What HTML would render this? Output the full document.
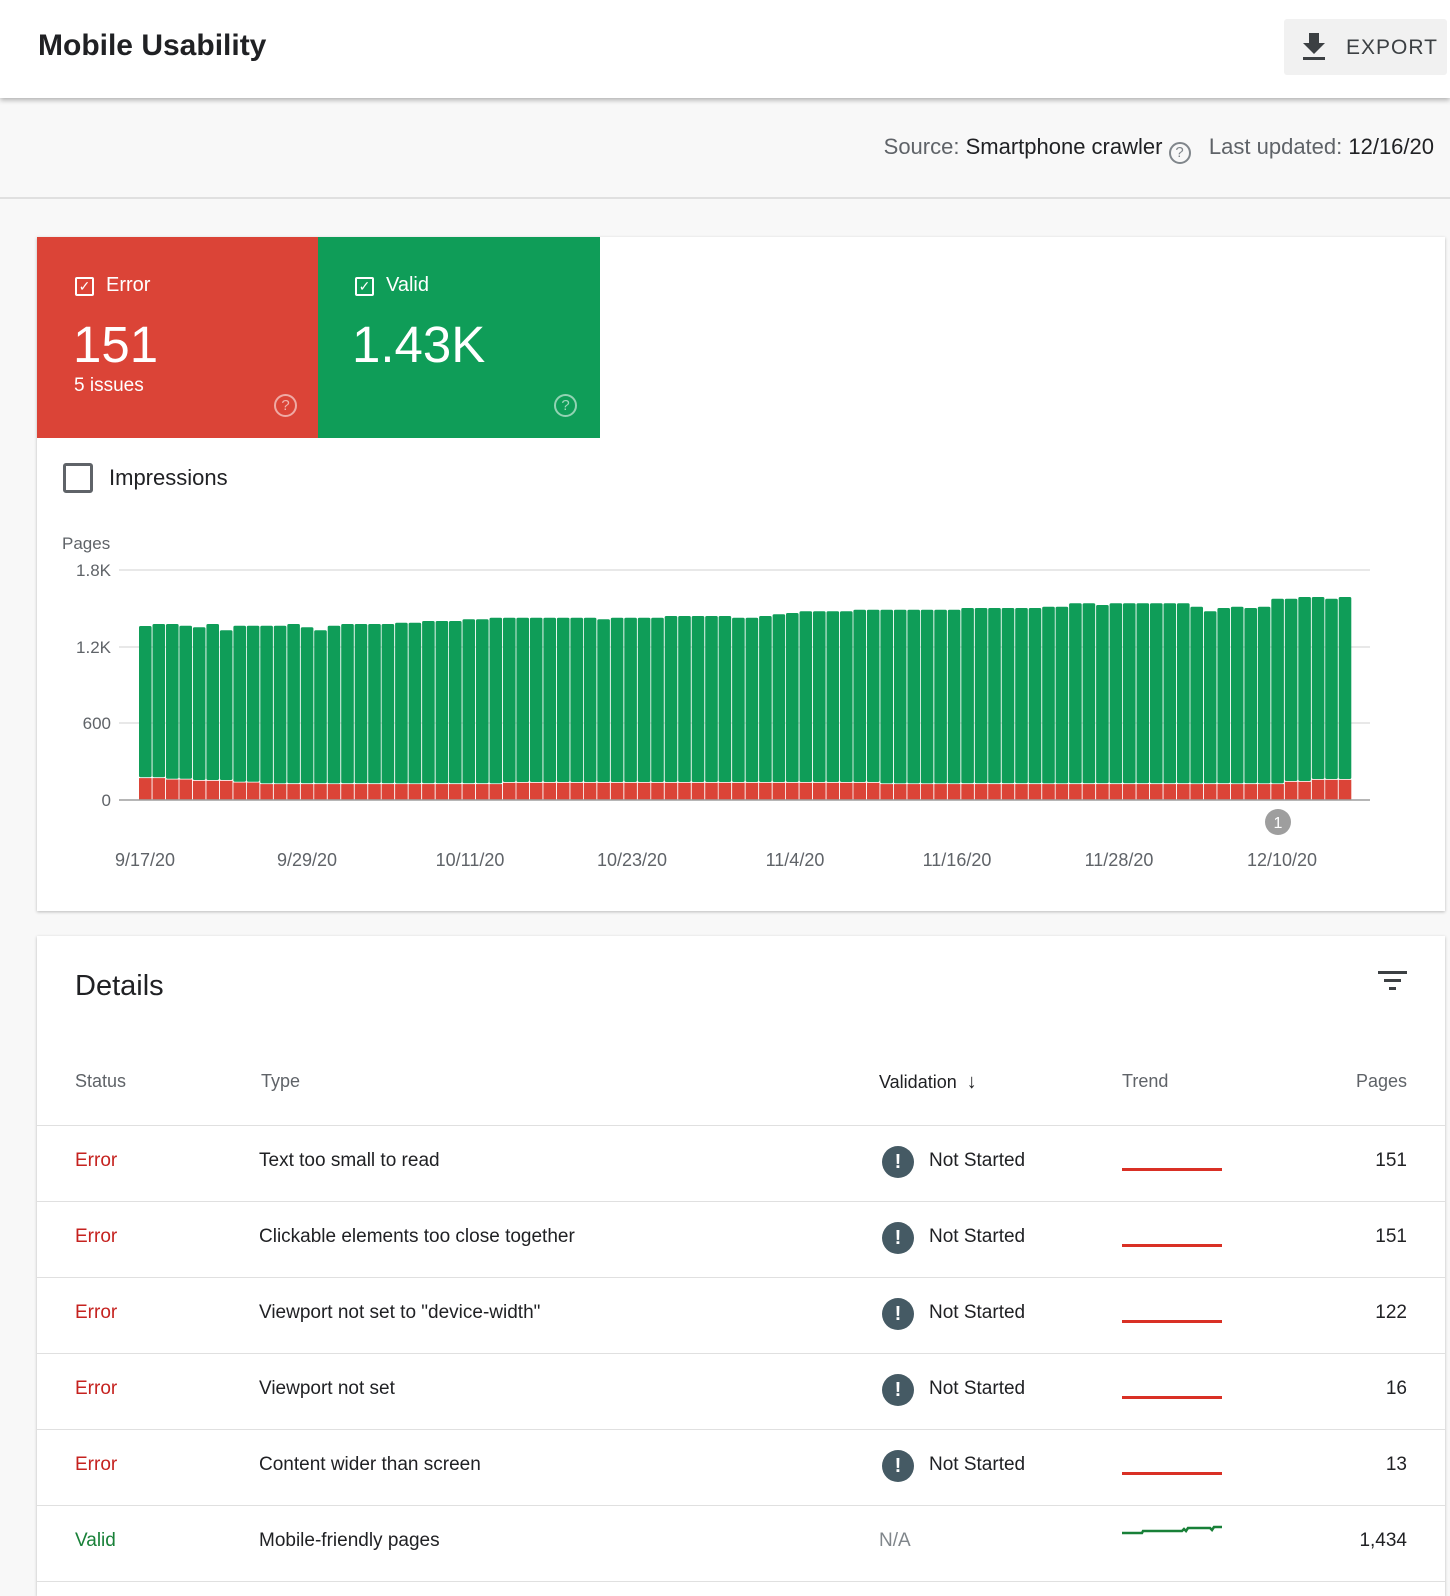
<!DOCTYPE html>
<html><head><meta charset="utf-8">
<style>
*{box-sizing:border-box;margin:0;padding:0}
body{width:1450px;height:1583px;overflow:hidden;background:#f8f8f8;font-family:"Liberation Sans",sans-serif;color:#202124;position:relative}
.abs{position:absolute}
#hdr{left:0;top:0;width:1450px;height:98px;background:#fff;box-shadow:0 2px 5px rgba(0,0,0,.3);z-index:2}
.card{background:#fff;box-shadow:0 1px 3px rgba(0,0,0,.25)}
.t{white-space:nowrap}
</style></head><body>
<div id="hdr" class="abs">
 <div class="abs t" style="left:38px;top:29px;font-size:30px;font-weight:bold;color:#202124">Mobile Usability</div>
 <div class="abs" style="left:1284px;top:19px;width:163px;height:56px;background:#f1f1f1;border-radius:3px"></div>
 <svg class="abs" style="left:1302px;top:33px" width="26" height="28"><path d="M7 0h10v10h6l-11 11-11-11h6z M1 24h22v3H1z" fill="#3c4043"/></svg>
 <div class="abs t" style="left:1346px;top:36px;font-size:21px;color:#3c4043;letter-spacing:1px">EXPORT</div>
</div>
<div class="abs t" style="right:16px;top:134px;font-size:22px;color:#5f6368">Source: <span style="color:#202124">Smartphone crawler</span> <span style="display:inline-block;width:22px;height:22px;border:2px solid #80868b;border-radius:50%;font-size:15px;text-align:center;line-height:18px;vertical-align:-3px;color:#80868b">?</span> &nbsp;&nbsp;Last updated: <span style="color:#202124">12/16/20</span></div>
<div class="abs" style="left:0;top:197px;width:1450px;height:2px;background:#e0e0e0"></div>

<div class="abs card" style="left:37px;top:237px;width:1408px;height:674px">
 <div class="abs" style="left:0;top:0;width:281px;height:201px;background:#db4437"></div>
 <div class="abs" style="left:281px;top:0;width:282px;height:201px;background:#0f9d58"></div>
 <div class="abs" style="left:38px;top:40px;width:19px;height:19px;border:2px solid #fff;border-radius:2px;color:#fff;font-size:14px;line-height:15px;text-align:center">✓</div>
 <div class="abs t" style="left:69px;top:37px;font-size:20px;color:#fff">Error</div>
 <div class="abs t" style="left:36px;top:78px;font-size:51px;color:#fff">151</div>
 <div class="abs t" style="left:37px;top:138px;font-size:19px;color:#fff">5 issues</div>
 <div class="abs" style="left:237px;top:157px;width:23px;height:23px;border:2px solid rgba(255,255,255,.55);border-radius:50%;color:rgba(255,255,255,.6);font-size:15px;text-align:center;line-height:19px">?</div>
 <div class="abs" style="left:318px;top:40px;width:19px;height:19px;border:2px solid #fff;border-radius:2px;color:#fff;font-size:14px;line-height:15px;text-align:center">✓</div>
 <div class="abs t" style="left:349px;top:37px;font-size:20px;color:#fff">Valid</div>
 <div class="abs t" style="left:315px;top:78px;font-size:51px;color:#fff">1.43K</div>
 <div class="abs" style="left:517px;top:157px;width:23px;height:23px;border:2px solid rgba(255,255,255,.55);border-radius:50%;color:rgba(255,255,255,.6);font-size:15px;text-align:center;line-height:19px">?</div>
 <div class="abs" style="left:26px;top:226px;width:30px;height:30px;border:3px solid #5f6368;border-radius:3px"></div>
 <div class="abs t" style="left:72px;top:228px;font-size:22px;color:#202124">Impressions</div>
</div>

<svg class="abs" style="left:0;top:0" width="1450" height="911">
 <g font-family="Liberation Sans, sans-serif" font-size="17" fill="#5f6368">
  <text x="62" y="549">Pages</text>
  <text x="111" y="576" text-anchor="end">1.8K</text>
  <text x="111" y="653" text-anchor="end">1.2K</text>
  <text x="111" y="729" text-anchor="end">600</text>
  <text x="111" y="806" text-anchor="end">0</text>
 </g>
 <g stroke="#e8e8e8" stroke-width="2">
  <line x1="119" y1="570" x2="1370" y2="570"/><line x1="119" y1="647" x2="1370" y2="647"/><line x1="119" y1="723" x2="1370" y2="723"/>
 </g>
 <g id="bars"></g>
 <line x1="119" y1="800" x2="1370" y2="800" stroke="#9e9e9e" stroke-width="1.5"/>
 <circle cx="1278" cy="822" r="13" fill="#9e9e9e"/>
 <text x="1278" y="828" text-anchor="middle" font-family="Liberation Sans, sans-serif" font-size="16" fill="#fff">1</text>
 <g font-family="Liberation Sans, sans-serif" font-size="18" fill="#5f6368" text-anchor="middle">
  <text x="145" y="866">9/17/20</text><text x="307" y="866">9/29/20</text><text x="470" y="866">10/11/20</text><text x="632" y="866">10/23/20</text>
  <text x="795" y="866">11/4/20</text><text x="957" y="866">11/16/20</text><text x="1119" y="866">11/28/20</text><text x="1282" y="866">12/10/20</text>
 </g>
</svg>

<div class="abs card" style="left:37px;top:936px;width:1408px;height:660px">
 <div class="abs t" style="left:38px;top:34px;font-size:29px;color:#202124">Details</div>
 <svg class="abs" style="left:1341px;top:33px" width="30" height="22"><rect x="0" y="2" width="29" height="3" fill="#3c4043"/><rect x="6" y="10" width="17" height="3" fill="#3c4043"/><rect x="11" y="18" width="7" height="3" fill="#3c4043"/></svg>
 <div class="abs t" style="left:38px;top:135px;font-size:18px;color:#5f6368">Status</div>
 <div class="abs t" style="left:224px;top:135px;font-size:18px;color:#5f6368">Type</div>
 <div class="abs t" style="left:842px;top:135px;font-size:18px;color:#202124">Validation &nbsp;<span style="font-size:20px">↓</span></div>
 <div class="abs t" style="left:1085px;top:135px;font-size:18px;color:#5f6368">Trend</div>
 <div class="abs t" style="right:38px;top:135px;font-size:18px;color:#5f6368">Pages</div>
 <div id="rows"></div>
</div>

<script>
(function(){
var tops=[318,312,312,317,322,312,331,317,317,317,317,312,322,331,317,312,312,312,312,308,308,303,303,303,298,298,293,293,293,293,293,293,293,293,298,293,293,293,293,288,288,288,288,288,
293,293,288,283,279,274,274,274,274,269,269,269,269,269,269,269,269,264,264,264,264,264,264,260,260,250,250,255,250,250,250,250,250,250,260,274,264,260,264,260,236,236,231,231,236,231];
var s='';
for(var i=0;i<90;i++){
 var x=139+i*13.48, w=12.6;
 var yt=520+tops[i]/3;
 var ez=i<2?772:i<4?776:i<7?780:i<9?785:i<27?790:i<55?786:i<85?790:i<87?783:777;
 var ye=520+ez/3;
 s+='<rect x="'+x.toFixed(1)+'" y="'+yt.toFixed(1)+'" width="'+w+'" height="'+(ye-yt).toFixed(1)+'" rx="1.5" fill="#0f9d58"/>';
 s+='<rect x="'+x.toFixed(1)+'" y="'+(ye+0.8).toFixed(1)+'" width="'+w+'" height="'+(800-ye-0.8).toFixed(1)+'" fill="#db4437"/>';
}
document.getElementById('bars').innerHTML=s;
var rows=[["Error","Text too small to read","151"],["Error","Clickable elements too close together","151"],["Error","Viewport not set to \"device-width\"","122"],["Error","Viewport not set","16"],["Error","Content wider than screen","13"],["Valid","Mobile-friendly pages","1,434"]];
var h='';
for(var r=0;r<6;r++){
 var ry=189+r*76;
 h+='<div class="abs" style="left:0;top:'+ry+'px;width:1408px;height:1px;background:#e0e0e0"></div>';
 var cy=ry+37;
 var err=rows[r][0]=="Error";
 h+='<div class="abs t" style="left:38px;top:'+(cy-12)+'px;font-size:19px;color:'+(err?'#c5221f':'#188038')+'">'+rows[r][0]+'</div>';
 h+='<div class="abs t" style="left:222px;top:'+(cy-12)+'px;font-size:19px;color:#202124">'+rows[r][1]+'</div>';
 if(err){
  h+='<div class="abs" style="left:845px;top:'+(cy-16)+'px;width:32px;height:32px;border-radius:50%;background:#455a64;color:#fff;font-weight:bold;font-size:20px;text-align:center;line-height:32px">!</div>';
  h+='<div class="abs t" style="left:892px;top:'+(cy-12)+'px;font-size:19px;color:#202124">Not Started</div>';
  h+='<div class="abs" style="left:1085px;top:'+(cy+6)+'px;width:100px;height:3px;background:#d93025"></div>';
 } else {
  h+='<div class="abs t" style="left:842px;top:'+(cy-12)+'px;font-size:19px;color:#80868b">N/A</div>';
  h+='<svg class="abs" style="left:1085px;top:'+(cy-18)+'px" width="100" height="12"><polyline points="0,9 20,9 21,7 60,7 62,5 64,7 66,4 88,4 90,6 92,3 100,3" fill="none" stroke="#188038" stroke-width="2.5"/></svg>';
 }
 h+='<div class="abs t" style="right:38px;top:'+(cy-12)+'px;font-size:19px;color:#202124">'+rows[r][2]+'</div>';
}
h+='<div class="abs" style="left:0;top:645px;width:1408px;height:1px;background:#e0e0e0"></div>';
document.getElementById('rows').innerHTML=h;
})();
</script>
</body></html>
